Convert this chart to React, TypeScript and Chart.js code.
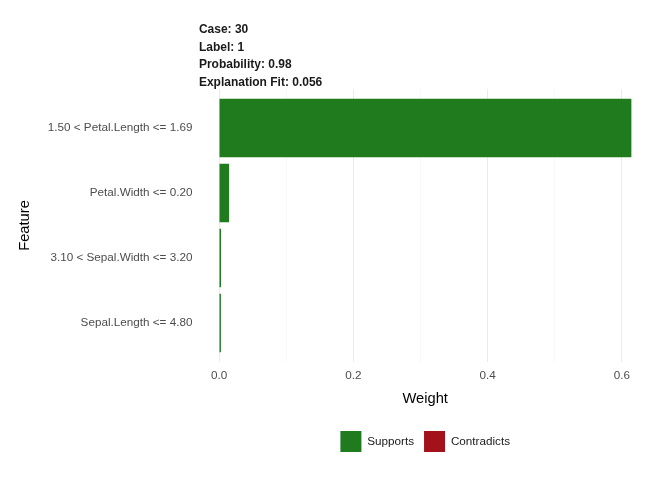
import React, { useEffect, useRef } from "react";
import { Chart, registerables } from "chart.js";

Chart.register(...registerables);

// ---- data ----
const features = [
  "1.50 < Petal.Length <= 1.69",
  "Petal.Width <= 0.20",
  "3.10 < Sepal.Width <= 3.20",
  "Sepal.Length <= 4.80",
];
const weights = [0.614, 0.015, 0.003, 0.0028];
const xTickValues = [0, 0.1, 0.2, 0.3, 0.4, 0.5, 0.6];
const headerLines = ["Case: 30", "Label: 1", "Probability: 0.98", "Explanation Fit: 0.056"];
const legendLabels = ["Supports", "Contradicts"];
const colors = ["#1F7B1D", "#A3121A"];

const FONT = '"Liberation Sans", Arial, Helvetica, sans-serif';

export default function App() {
  const ref = useRef<HTMLCanvasElement | null>(null);

  useEffect(() => {
    if (!ref.current) return;
    const maxW = Math.max(...weights);
    const xMin = -0.05 * maxW;
    const xMax = maxW * 1.05;

    const headerPlugin = {
      id: "header",
      afterDraw(chart: any) {
        const { ctx, chartArea } = chart;
        ctx.save();
        ctx.font = `bold 12px ${FONT}`;
        ctx.fillStyle = "#1a1a1a";
        ctx.textAlign = "left";
        ctx.textBaseline = "middle";
        headerLines.forEach((line, i) => {
          ctx.fillText(line, chartArea.left + 0.5, 30 + i * 17.4);
        });
        ctx.restore();
      },
    };

    const chart = new Chart(ref.current, {
      type: "bar",
      data: {
        datasets: [
          {
            label: legendLabels[0],
            data: weights.map((w, i) => ({ x: w, y: i + 1 })),
            backgroundColor: colors[0],
            borderWidth: 0,
            grouped: false,
            barPercentage: 0.9,
            categoryPercentage: 1,
          } as any,
          {
            label: legendLabels[1],
            data: [],
            backgroundColor: colors[1],
            borderWidth: 0,
            grouped: false,
            barPercentage: 0.9,
            categoryPercentage: 1,
          } as any,
        ],
      },
      options: {
        indexAxis: "y",
        animation: false,
        responsive: true,
        maintainAspectRatio: false,
        layout: { padding: { left: 12, right: 20, top: 89, bottom: 18 } },
        scales: {
          x: {
            type: "linear",
            min: xMin,
            max: xMax,
            afterBuildTicks: (axis: any) => {
              axis.ticks = xTickValues.map((v) => ({ value: v }));
            },
            afterFit: (scale: any) => {
              scale.height = 59;
            },
            grid: {
              drawTicks: false,
              color: (c: any) =>
                Math.round((c.tick?.value ?? 0) * 10) % 2 === 0 ? "#EBEBEB" : "#F4F4F4",
              lineWidth: (c: any) =>
                Math.round((c.tick?.value ?? 0) * 10) % 2 === 0 ? 1 : 0.6,
            },
            border: { display: false },
            ticks: {
              padding: 7,
              color: "#4D4D4D",
              font: { family: FONT, size: 11.7 },
              callback: (v: any) => {
                const k = Math.round(Number(v) * 10);
                return k % 2 === 0 ? (k / 10).toFixed(1) : "";
              },
            },
            title: {
              display: true,
              text: "Weight",
              color: "#000000",
              font: { family: FONT, size: 14.7 },
              padding: { top: 4, bottom: 13 },
            },
          },
          y: {
            type: "linear",
            offset: false,
            min: 0.4,
            max: features.length + 0.6,
            reverse: true,
            afterBuildTicks: (axis: any) => {
              axis.ticks = features.map((_, i) => ({ value: i + 1 }));
            },
            afterFit: (scale: any) => {
              scale.width = 186.4;
            },
            grid: { display: false, drawTicks: false, offset: false },
            border: { display: false },
            ticks: {
              padding: 6,
              color: "#4D4D4D",
              font: { family: FONT, size: 11.7 },
              callback: (v: any) => features[Math.round(Number(v)) - 1] ?? "",
            },
            title: {
              display: true,
              text: "Feature",
              color: "#000000",
              font: { family: FONT, size: 14.7 },
              padding: { top: 4, bottom: 4 },
            },
          },
        },
        plugins: {
          tooltip: { enabled: false },
          legend: {
            position: "bottom",
            fullSize: false,
            labels: {
              boxWidth: 21,
              boxHeight: 21,
              padding: 10,
              color: "#1A1A1A",
              font: { family: FONT, size: 11.7 },
            },
          },
          title: { display: false },
        },
      } as any,
      plugins: [headerPlugin],
    });
    return () => chart.destroy();
  }, []);

  return (
    <div style={{ position: "fixed", left: 0, top: 0, width: 672, height: 480, background: "#fff" }}>
      <canvas ref={ref} />
    </div>
  );
}
